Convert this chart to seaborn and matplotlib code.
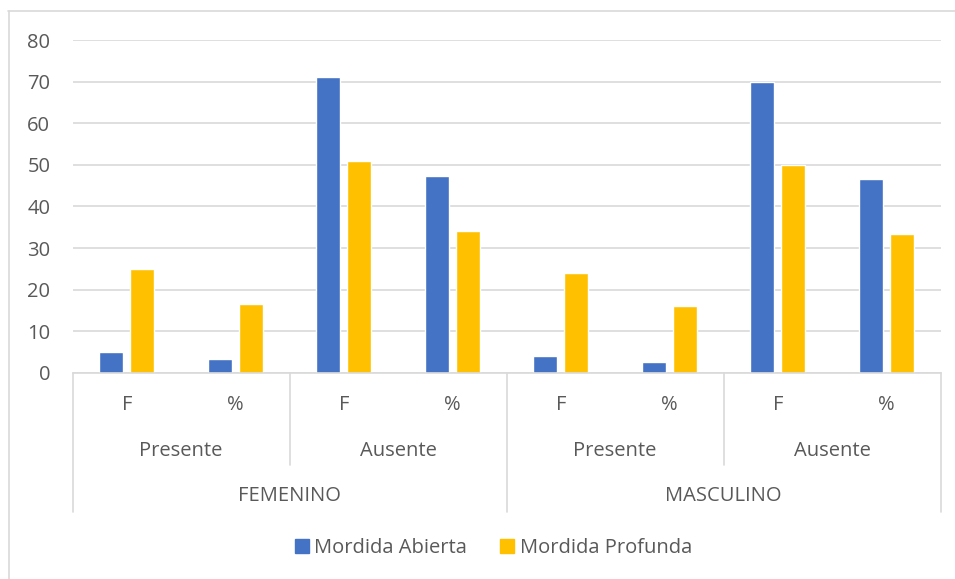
import pandas as pd
import matplotlib
matplotlib.use('Agg')
import matplotlib.pyplot as plt
from matplotlib.lines import Line2D
import seaborn as sns

# data
genders = ['FEMENINO', 'MASCULINO']
states = ['Presente', 'Ausente']
measures = ['F', '%']
abierta = [5, 3.33, 71, 47.33, 4, 2.67, 70, 46.67]
profunda = [25, 16.67, 51, 34, 24, 16, 50, 33.33]
series = ['Mordida Abierta', 'Mordida Profunda']
colors = ['#4472C4', '#FFC000']

sns.set_theme(style='white')
plt.rcParams['font.family'] = ['Open Sans', 'DejaVu Sans']

cats = [f'{g}|{s}|{m}' for g in genders for s in states for m in measures]
df = pd.DataFrame({
    'cat': cats * 2,
    'serie': [series[0]] * len(cats) + [series[1]] * len(cats),
    'valor': abierta + profunda,
})

fig = plt.figure(figsize=(9.55, 5.79), dpi=100)
ax = fig.add_axes([72.5 / 955, 1 - 373 / 579, 868 / 955, 333 / 579])

sns.barplot(data=df, x='cat', y='valor', hue='serie', order=cats,
            palette=colors, width=0.57, gap=0.22, ax=ax, legend=False,
            saturation=1, errorbar=None)

grey = '#595959'
line_c = '#d9d9d9'
fs = 14.5
ax.set_ylim(0, 80)
ax.set_xlim(-0.5, len(cats) - 0.5)
ax.set_yticks(range(0, 81, 10))
ax.yaxis.grid(True, color=line_c, linewidth=1.2)
ax.set_axisbelow(True)
ax.tick_params(axis='y', length=0, pad=16, labelsize=fs, labelcolor=grey)
ax.set_xticks([])
ax.set_xlabel('')
ax.set_ylabel('')
for side in ['top', 'right', 'left']:
    ax.spines[side].set_visible(False)
ax.spines['bottom'].set_color(line_c)
ax.spines['bottom'].set_linewidth(1.2)

tr = ax.get_xaxis_transform()
# first level labels
for i, c in enumerate(cats):
    ax.text(i, -0.096, c.split('|')[2], transform=tr, ha='center', va='center',
            fontsize=fs, color=grey)
# second level
for j in range(len(genders) * len(states)):
    ax.text(2 * j + 0.5, -0.234, states[j % 2], transform=tr, ha='center',
            va='center', fontsize=fs, color=grey)
# third level
for k, g in enumerate(genders):
    ax.text(4 * k + 1.5, -0.369, g, transform=tr, ha='center', va='center',
            fontsize=fs, color=grey)

# separators
for xb in [-0.5, 3.5, 7.5]:
    ax.plot([xb, xb], [0, -0.417], transform=tr, color=line_c, lw=1.2, clip_on=False)
for xb in [1.5, 5.5]:
    ax.plot([xb, xb], [0, -0.276], transform=tr, color=line_c, lw=1.2, clip_on=False)

handles = [Line2D([], [], marker='s', linestyle='', markersize=10.5,
                  markerfacecolor=c, markeredgecolor=c) for c in colors]
fig.legend(handles, series, loc='center', bbox_to_anchor=(492 / 955, 1 - 548 / 579),
           ncol=2, frameon=False, fontsize=fs, labelcolor=grey,
           handletextpad=0.1, columnspacing=1.5, handlelength=1.0)

# chart area border (top and left visible)
fig.add_artist(Line2D([8 / 955, 1], [1 - 10.5 / 579] * 2, color=line_c, lw=1.2))
fig.add_artist(Line2D([8.5 / 955] * 2, [0, 1 - 10.5 / 579], color=line_c, lw=1.2))

fig.savefig('out.png', dpi=100)
